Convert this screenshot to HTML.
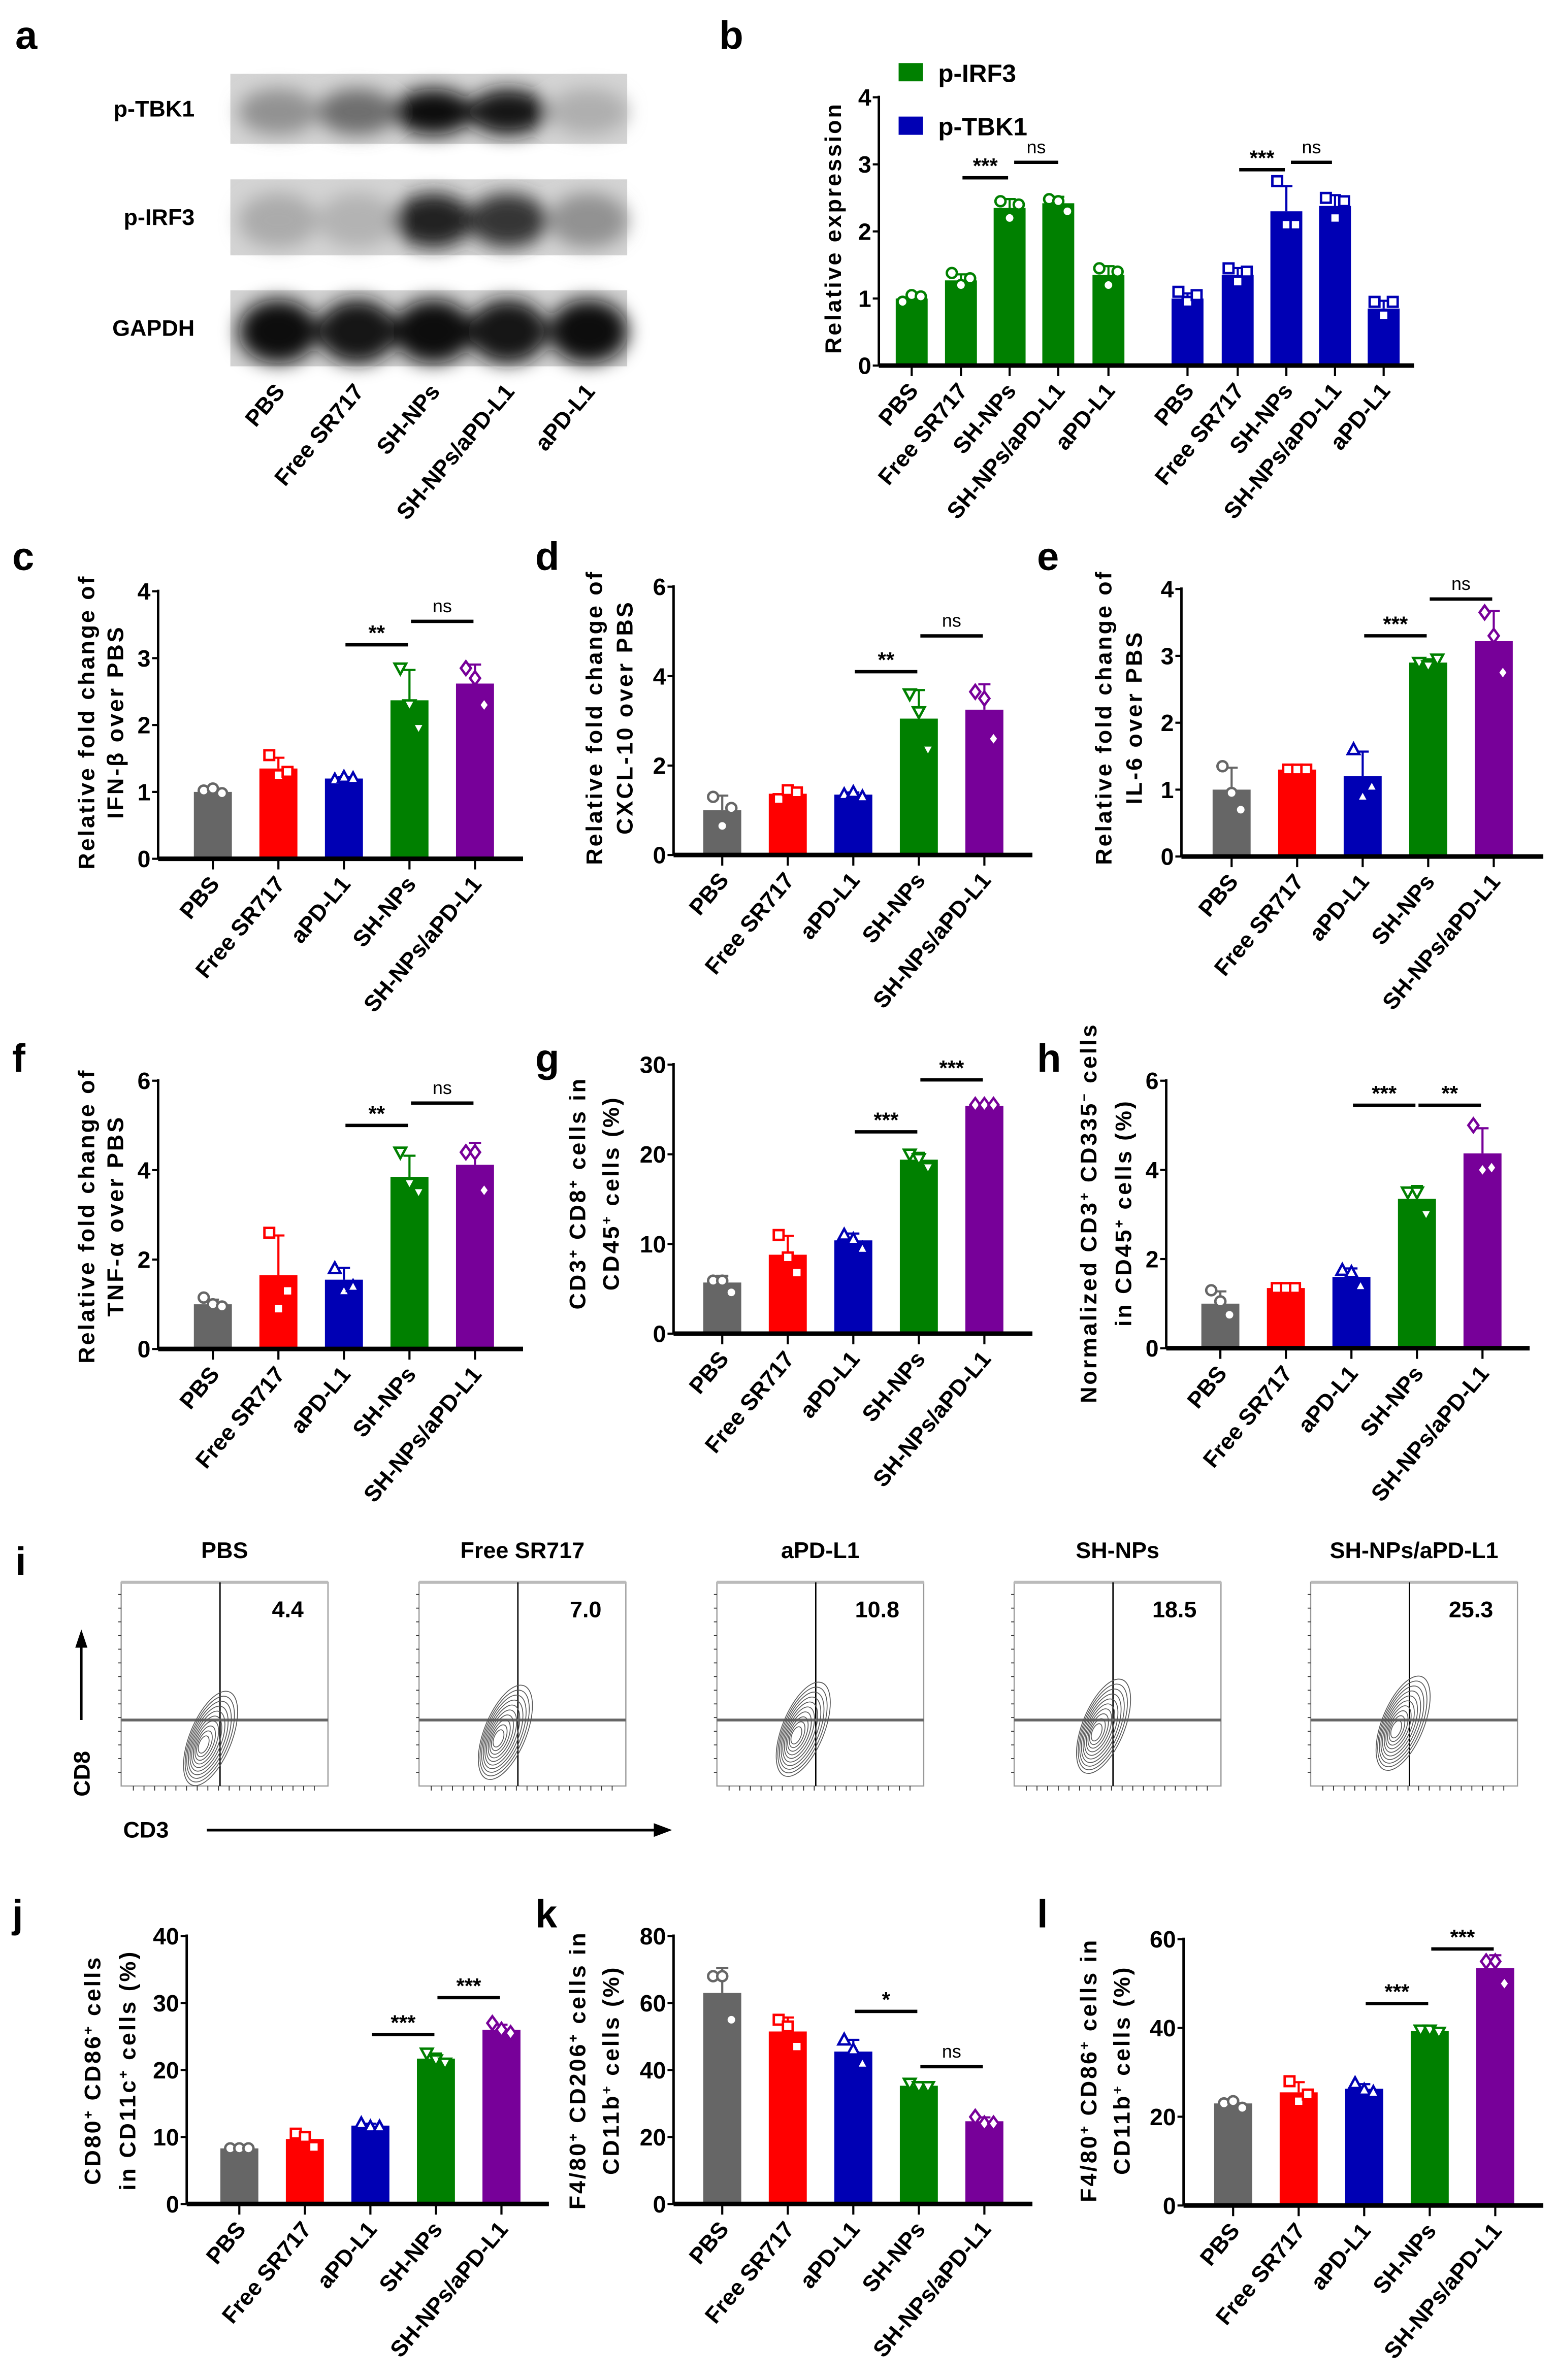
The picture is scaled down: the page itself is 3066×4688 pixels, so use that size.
<!DOCTYPE html>
<html><head><meta charset="utf-8">
<style>
html,body{margin:0;padding:0;background:#fff;}
svg{display:block;font-family:"Liberation Sans",Arial,sans-serif;}
</style></head>
<body>
<svg id="fig" xmlns="http://www.w3.org/2000/svg" width="3066" height="4688" viewBox="0 0 1024 1565.8" preserveAspectRatio="none">
<defs>
<filter id="blur" x="-50%" y="-50%" width="200%" height="200%"><feGaussianBlur stdDeviation="6"/></filter>
</defs>
<g id="root"></g>
</svg>
<script>
// ---------- data ----------
const groups = ["PBS","Free SR717","aPD-L1","SH-NPs","SH-NPs/aPD-L1"];
const blotGroups = ["PBS","Free SR717","SH-NPs","SH-NPs/aPD-L1","aPD-L1"];
const blotTBK1 = [0.32,0.50,0.95,0.92,0.18];
const blotIRF3 = [0.20,0.16,0.88,0.78,0.32];
const blotGAPDH = [0.95,0.93,0.97,0.93,0.97];

const bIRF3Means = [1.0,1.27,2.35,2.42,1.35];
const bIRF3Pts = [[0.95,1.05,1.03],[1.38,1.2,1.3],[2.45,2.2,2.4],[2.48,2.45,2.3],[1.45,1.2,1.4]];
const bTBK1Means = [1.0,1.35,2.3,2.38,0.85];
const bTBK1Pts = [[1.1,0.95,1.05],[1.45,1.25,1.4],[2.75,2.1,2.1],[2.5,2.2,2.45],[0.95,0.75,0.95]];
const bTicks = [0,1,2,3,4];

const cMeans = [1.0,1.35,1.2,2.37,2.62];
const cPts = [[1.02,1.05,0.98],[1.55,1.25,1.3],[1.18,1.22,1.2],[2.85,2.3,1.95],[2.85,2.7,2.3]];
const cTicks = [0,1,2,3,4];
const dMeans = [1.0,1.37,1.35,3.05,3.25];
const dPts = [[1.3,0.65,1.05],[1.25,1.45,1.4],[1.35,1.4,1.3],[3.6,3.2,2.35],[3.65,3.5,2.6]];
const dTicks = [0,2,4,6];
const eMeans = [1.0,1.3,1.2,2.9,3.22];
const ePts = [[1.35,0.95,0.7],[1.3,1.3,1.3],[1.6,0.9,1.05],[2.9,2.85,2.95],[3.65,3.3,2.75]];
const eTicks = [0,1,2,3,4];
const fMeans = [1.0,1.65,1.55,3.85,4.12];
const fPts = [[1.15,1.0,0.95],[2.6,0.9,1.3],[1.8,1.3,1.4],[4.4,3.7,3.5],[4.4,4.4,3.55]];
const fTicks = [0,2,4,6];
const gMeans = [5.7,8.8,10.4,19.4,25.4];
const gPts = [[5.9,5.9,4.6],[11,8.5,6.8],[11,10.5,9.5],[20,19.5,18.5],[25.5,25.5,25.5]];
const gTicks = [0,10,20,30];
const hMeans = [1.0,1.35,1.6,3.35,4.37];
const hPts = [[1.3,1.05,0.75],[1.35,1.35,1.35],[1.75,1.7,1.4],[3.5,3.5,3.0],[5.0,4.0,4.05]];
const hTicks = [0,2,4,6];
const jMeans = [8.3,9.7,11.7,21.7,26.0];
const jPts = [[8.3,8.3,8.3],[10.5,10,8.5],[12,11.5,11.5],[22.5,21.5,21],[27,26,25.5]];
const jTicks = [0,10,20,30,40];
const kMeans = [63,51.5,45.5,35.3,24.7];
const kPts = [[68,68,55],[55,53,47],[49,46,42],[36,35,35],[26,24,24]];
const kTicks = [0,20,40,60,80];
const lMeans = [23,25.5,26.3,39.3,53.5];
const lPts = [[23,23.5,22],[28,23.5,25],[27.5,26,25.5],[39.5,39.5,39],[55,55,50]];
const lTicks = [0,20,40,60];

const flowValues = ["4.4","7.0","10.8","18.5","25.3"];

// ---------- helpers ----------
const NS="http://www.w3.org/2000/svg";
const root=document.getElementById('root');
function el(tag,attrs,parent){const e=document.createElementNS(NS,tag);for(const k in attrs)e.setAttribute(k,attrs[k]);(parent||root).appendChild(e);return e;}
const colors=["#666666","#ff0000","#0000b4","#008000","#770099"];
const markers=["circle","square","tri","tridown","diamond"];
function sd(a){const m=a.reduce((s,v)=>s+v,0)/a.length;return Math.sqrt(a.reduce((s,v)=>s+(v-m)*(v-m),0)/(a.length-1));}
function marker(g,type,x,y,c){
  let m;
  if(type==="circle"){m=el('circle',{cx:x,cy:y,r:3.3},g);}
  else if(type==="square"){m=el('rect',{x:x-3.2,y:y-3.2,width:6.4,height:6.4},g);}
  else if(type==="tri"){m=el('polygon',{points:`${x},${y-4} ${x-3.8},${y+3} ${x+3.8},${y+3}`},g);}
  else if(type==="tridown"){m=el('polygon',{points:`${x},${y+4} ${x-3.8},${y-3} ${x+3.8},${y-3}`},g);}
  else {m=el('polygon',{points:`${x},${y-4.5} ${x-3.3},${y} ${x},${y+4.5} ${x+3.3},${y}`},g);}
  m.setAttribute('fill','#fff');m.setAttribute('stroke',c);m.setAttribute('stroke-width','1.6');
  
  
}
function text(g,x,y,s,opt){
  const t=el('text',Object.assign({x:x,y:y,'font-size':14,'font-weight':'bold','fill':'#000'},opt||{}),g);
  t.textContent=s;return t;
}

function barChart(o){
  const g=el('g',{});
  
  
  const ymax=o.ticks[o.ticks.length-1];
  const Y=v=>o.y0-(v/ymax)*(o.y0-o.yTop);
  const X=i=>o.bx[i];
  const ax=el('line',{x1:o.ax,y1:o.yTop-1,x2:o.ax,y2:o.y0,stroke:'#000','stroke-width':1.6},g);
  
  o.ticks.forEach(t=>{
    el('line',{x1:o.ax-4,y1:Y(t),x2:o.ax,y2:Y(t),stroke:'#000','stroke-width':1.4},g);
    const tl=text(g,o.ax-5,Y(t)+5.5,String(t),{'text-anchor':'end','font-size':15.5});
    
  });
  o.series.forEach(s=>{
    s.means.forEach((m,i)=>{
      const cx=X(s.off+i), c=s.colors[i];
      const b=el('rect',{x:cx-o.bw/2,y:Y(m),width:o.bw,height:o.y0-Y(m),fill:c},g);
      
      
      const e=sd(s.pts[i]);
      el('line',{x1:cx,y1:Y(m),x2:cx,y2:Y(m+e),stroke:c,'stroke-width':1.4},g);
      el('line',{x1:cx-4,y1:Y(m+e),x2:cx+4,y2:Y(m+e),stroke:c,'stroke-width':1.4},g);
      s.pts[i].forEach((p,j)=>marker(g,s.markers[i],cx+(j-1)*6,Y(p),c));
      el('line',{x1:cx,y1:o.y0,x2:cx,y2:o.y0+7,stroke:'#000','stroke-width':1.4},g);
      const lab=text(g,0,0,s.labels[i],{'text-anchor':'end','font-size':15,transform:`translate(${cx+5},${o.y0+17}) rotate(-50)`});
      
    });
  });
  const xa=el('line',{x1:o.ax,y1:o.y0,x2:o.axEnd,y2:o.y0,stroke:'#000','stroke-width':3},g);
  
  (o.sig||[]).forEach(s=>{
    if(!s.t)return;
    const y=Y(s.v);
    el('line',{x1:X(s.a)+1,y1:y,x2:X(s.b)-1,y2:y,stroke:'#000','stroke-width':2.2},g);
    const st=text(g,(X(s.a)+X(s.b))/2,y-(s.t==='ns'?6:3),s.t,{'text-anchor':'middle','font-size':s.t==='ns'?12:14,'font-weight':s.t==='ns'?'normal':'bold'});
    
  });
  const yl=el('text',{transform:`translate(${o.ylx},${o.yly}) rotate(-90)`,'text-anchor':'middle','font-size':15,'font-weight':'bold','letter-spacing':'1.3'},g);
  
  o.ylab.forEach((line,li)=>{
    const ts=el('tspan',{x:0,y:li*o.lh},yl);
    line.forEach(part=>{
      if(typeof part==='string'){ts.appendChild(document.createTextNode(part));}
      else{const sp=el('tspan',{'baseline-shift':'super','font-size':9},ts);sp.textContent=part.sup;}
    });
  });
  const pl=text(g,o.px,o.py,o.letter,{'font-size':26});
  
  return g;
}
function std(key,means,pts){return [{key:key,off:0,means:means,pts:pts,colors:colors,markers:markers,labels:groups}];}
function bx(first){return [0,1,2,3,4].map(i=>first+i*43.1);}

// ---------- panel a ----------
(function(){
  const g=el('g',{});
  
  
  const pl=text(g,10,32,'a',{'font-size':26});
  
  const lanes=[183,235,285,334,387];
  const rows=[{n:'p-TBK1',y:48.6,h:46,v:blotTBK1,ry:0.33},{n:'p-IRF3',y:118,h:50,v:blotIRF3,ry:0.36},{n:'GAPDH',y:191,h:50,v:blotGAPDH,ry:0.42}];
  rows.forEach(r=>{
    const bg=el('rect',{x:151.5,y:r.y,width:261,height:r.h,fill:'#d4d4d4'},g);
    
    const bands=el('g',{filter:'url(#blur)'},g);
    r.v.forEach((v,i)=>{
      const gr=Math.round(212-205*v);
      const bd=el('ellipse',{cx:lanes[i],cy:r.y+r.h/2+2,rx:26,ry:r.h*r.ry,fill:`rgb(${gr},${gr},${gr})`},bands);
      
    });
    const t=text(g,128,r.y+r.h/2+5,r.n,{'text-anchor':'end','font-size':15});
    
  });
  blotGroups.forEach((s,i)=>{
    const t=text(g,0,0,s,{'text-anchor':'end','font-size':15,transform:`translate(${lanes[i]+5},${258}) rotate(-50)`});
    
  });
})();

// ---------- panel b ----------
barChart({name:'chart-b',letter:'b',px:473,py:32,ax:578,axEnd:930,y0:240.5,yTop:64,ticks:bTicks,bw:21,
  bx:[599.6,632,664,696,729,781,814,846,878,910],
  series:[{key:'irf3',off:0,means:bIRF3Means,pts:bIRF3Pts,colors:Array(5).fill('#008000'),markers:Array(5).fill('circle'),labels:blotGroups},
          {key:'tbk1',off:5,means:bTBK1Means,pts:bTBK1Pts,colors:Array(5).fill('#0000b4'),markers:Array(5).fill('square'),labels:blotGroups}],
  sig:[{a:1,b:2,v:2.8,t:'***'},{a:6,b:7,v:2.92,t:'***'}],
  ylab:[['Relative expression']],lh:0,ylx:553,yly:150});
(function(){
  const Y=v=>240.5-(v/4)*(240.5-64);
  [[667,696],[849,876]].forEach(p=>{
    el('line',{x1:p[0],y1:Y(3.03),x2:p[1],y2:Y(3.03),stroke:'#000','stroke-width':2.2});
    const t=text(root,(p[0]+p[1])/2,Y(3.03)-6,'ns',{'text-anchor':'middle','font-size':12,'font-weight':'normal'});
    
  });
  const lg=el('g',{});
  
  
  el('rect',{x:591,y:41.5,width:16,height:12,fill:'#008000'},lg);
  text(lg,617,54,'p-IRF3',{'font-size':16.5});
  el('rect',{x:591,y:76.7,width:16,height:12,fill:'#0000b4'},lg);
  text(lg,617,89,'p-TBK1',{'font-size':16.5});
})();

// ---------- row c,d,e ----------
barChart({name:'chart-c',letter:'c',px:8,py:375,ax:104,axEnd:344,y0:565,yTop:389,ticks:cTicks,bw:25,bx:bx(140),
  series:std('c',cMeans,cPts),sig:[{a:2,b:3,v:3.2,t:'**'},{a:3,b:4,v:3.55,t:'ns'}],
  ylab:[['Relative fold change of'],['IFN-β over PBS']],lh:19,ylx:62,yly:475});
barChart({name:'chart-d',letter:'d',px:352,py:375,ax:443,axEnd:679,y0:562.5,yTop:386,ticks:dTicks,bw:25,bx:bx(475),
  series:std('d',dMeans,dPts),sig:[{a:2,b:3,v:4.1,t:'**'},{a:3,b:4,v:4.9,t:'ns'}],
  ylab:[['Relative fold change of'],['CXCL-10 over PBS']],lh:20,ylx:396,yly:472});
barChart({name:'chart-e',letter:'e',px:682,py:375,ax:777,axEnd:1015,y0:563.5,yTop:387.5,ticks:eTicks,bw:25,bx:bx(810),
  series:std('e',eMeans,ePts),sig:[{a:2,b:3,v:3.3,t:'***'},{a:3,b:4,v:3.85,t:'ns'}],
  ylab:[['Relative fold change of'],['IL-6 over PBS']],lh:20,ylx:731,yly:472});

// ---------- row f,g,h ----------
barChart({name:'chart-f',letter:'f',px:8,py:705,ax:104,axEnd:344,y0:887.5,yTop:711,ticks:fTicks,bw:25,bx:bx(140),
  series:std('f',fMeans,fPts),sig:[{a:2,b:3,v:5.0,t:'**'},{a:3,b:4,v:5.5,t:'ns'}],
  ylab:[['Relative fold change of'],['TNF-α over PBS']],lh:19,ylx:62,yly:800});
barChart({name:'chart-g',letter:'g',px:352,py:705,ax:443,axEnd:679,y0:877.4,yTop:700.4,ticks:gTicks,bw:25,bx:bx(475),
  series:std('g',gMeans,gPts),sig:[{a:2,b:3,v:22.5,t:'***'},{a:3,b:4,v:28.3,t:'***'}],
  ylab:[['CD3',{sup:'+'},' CD8',{sup:'+'},' cells in'],['CD45',{sup:'+'},' cells (%)']],lh:22,ylx:385,yly:785});
barChart({name:'chart-h',letter:'h',px:682,py:705,ax:767,axEnd:1006,y0:887,yTop:711,ticks:hTicks,bw:25,bx:bx(802.6),
  series:std('h',hMeans,hPts),sig:[{a:2,b:3,v:5.45,t:'***'},{a:3,b:4,v:5.45,t:'**'}],
  ylab:[['Normalized CD3',{sup:'+'},' CD335',{sup:'−'},' cells'],['in CD45',{sup:'+'},' cells (%)']],lh:23,ylx:721,yly:798});

// ---------- panel i ----------
(function(){
  const g=el('g',{});
  
  
  const pl=text(g,10,1036,'i',{'font-size':26});
  
  const boxes=[79.7,275.6,471.5,667,862];
  const cshift=[[-12,10],[-14,6],[-14,4],[-12,2],[-10,0]];
  boxes.forEach((x0,i)=>{
    const w=136,y0=1041,h=134;
    const t=text(g,x0+w/2,1025,groups[i],{'text-anchor':'middle','font-size':15});
    
    const r=el('rect',{x:x0,y:y0,width:w,height:h,fill:'none',stroke:'#999','stroke-width':0.8},g);
    
    el('line',{x1:x0,y1:y0,x2:x0+w,y2:y0,stroke:'#bbb','stroke-width':2},g);
    el('line',{x1:x0+65,y1:y0,x2:x0+65,y2:y0+h,stroke:'#000','stroke-width':0.9},g);
    el('line',{x1:x0,y1:1131.6,x2:x0+w,y2:1131.6,stroke:'#666','stroke-width':1.8},g);
    for(let k=0;k<14;k++){el('line',{x1:x0,y1:y0+8+k*9,x2:x0-2,y2:y0+8+k*9,stroke:'#333','stroke-width':0.6},g);}
    for(let k=0;k<18;k++){el('line',{x1:x0+8+k*7,y1:y0+h,x2:x0+8+k*7,y2:y0+h+3,stroke:'#333','stroke-width':0.6},g);}
    const n=text(g,x0+w-16,1064,flowValues[i],{'text-anchor':'end','font-size':15});
    
    const cx=x0+65+cshift[i][0], cy=1140+cshift[i][1];
    const cg=el('g',{transform:`translate(${cx},${cy}) rotate(-68)`},g);
    
    for(let k=1;k<=10;k++){
      el('ellipse',{cx:2+k*0.6,cy:k*0.3,rx:3+k*3.0,ry:1.8+k*1.2,fill:'none',stroke:'#555','stroke-width':0.55},cg);
    }
  });
  el('line',{x1:53.5,y1:1131.6,x2:53.5,y2:1082,stroke:'#000','stroke-width':1.6},g);
  el('polygon',{points:'53.5,1072 49.5,1084 57.5,1084',fill:'#000'},g);
  const c8=text(g,0,0,'CD8',{'text-anchor':'middle','font-size':15,transform:'translate(59,1167) rotate(-90)'});
  
  const c3=text(g,96,1209,'CD3',{'text-anchor':'middle','font-size':15});
  
  el('line',{x1:136,y1:1204,x2:432,y2:1204,stroke:'#000','stroke-width':1.8},g);
  el('polygon',{points:'442,1204 430,1199.5 430,1208.5',fill:'#000'},g);
})();

// ---------- row j,k,l ----------
barChart({name:'chart-j',letter:'j',px:8,py:1268,ax:122.8,axEnd:361,y0:1450,yTop:1273.7,ticks:jTicks,bw:25,bx:bx(157.4),
  series:std('j',jMeans,jPts),sig:[{a:2,b:3,v:25.3,t:'***'},{a:3,b:4,v:30.8,t:'***'}],
  ylab:[['CD80',{sup:'+'},' CD86',{sup:'+'},' cells'],['in CD11c',{sup:'+'},' cells (%)']],lh:23,ylx:66,yly:1362});
barChart({name:'chart-k',letter:'k',px:352,py:1268,ax:443,axEnd:679,y0:1450,yTop:1273.7,ticks:kTicks,bw:25,bx:bx(475),
  series:std('k',kMeans,kPts),sig:[{a:2,b:3,v:57.5,t:'*'},{a:3,b:4,v:41,t:'ns'}],
  ylab:[['F4/80',{sup:'+'},' CD206',{sup:'+'},' cells in'],['CD11b',{sup:'+'},' cells (%)']],lh:22,ylx:385,yly:1362});
barChart({name:'chart-l',letter:'l',px:682,py:1268,ax:778.4,axEnd:1015,y0:1451,yTop:1275.8,ticks:lTicks,bw:25,bx:bx(811),
  series:std('l',lMeans,lPts),sig:[{a:2,b:3,v:45.5,t:'***'},{a:3,b:4,v:57.8,t:'***'}],
  ylab:[['F4/80',{sup:'+'},' CD86',{sup:'+'},' cells in'],['CD11b',{sup:'+'},' cells (%)']],lh:22,ylx:721,yly:1362});
</script>
</body></html>
